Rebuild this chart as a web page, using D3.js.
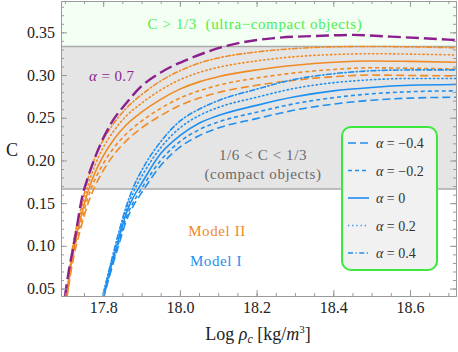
<!DOCTYPE html>
<html>
<head>
<meta charset="utf-8">
<script src="https://cdn.jsdelivr.net/npm/d3@7"></script>
<style>
  body { margin: 0; background: #fff; }
  text { font-family: "Liberation Serif", serif; }
</style>
</head>
<body>
<script>
// ---- data ----
var alphas = [-0.4, -0.2, 0, 0.2, 0.4];
var alphaLabels = ["\u03b1 = \u22120.4", "\u03b1 = \u22120.2", "\u03b1 = 0", "\u03b1 = 0.2", "\u03b1 = 0.4"];

// Model II (orange), log rho_c grid
var model2X = [17.705, 17.72, 17.74, 17.76, 17.78, 17.80, 17.83, 17.86, 17.90, 17.95, 18.00, 18.05, 18.10, 18.20, 18.30, 18.40, 18.50, 18.60, 18.72];
var model2C = {
  "-0.4": [0.038, 0.080, 0.118, 0.149, 0.171, 0.188, 0.208, 0.223, 0.238, 0.2525, 0.2645, 0.273, 0.2795, 0.288, 0.294, 0.298, 0.300, 0.2995, 0.299],
  "-0.2": [0.039, 0.085, 0.124, 0.156, 0.179, 0.196, 0.216, 0.231, 0.246, 0.261, 0.273, 0.2815, 0.288, 0.2965, 0.3025, 0.3065, 0.3085, 0.308, 0.307],
  "0":    [0.040, 0.089, 0.130, 0.163, 0.187, 0.205, 0.226, 0.2415, 0.2565, 0.2715, 0.2835, 0.292, 0.298, 0.306, 0.3115, 0.315, 0.3165, 0.316, 0.315],
  "0.2":  [0.041, 0.094, 0.135, 0.170, 0.196, 0.215, 0.236, 0.252, 0.267, 0.2825, 0.2945, 0.303, 0.309, 0.3165, 0.3215, 0.324, 0.325, 0.3245, 0.3235],
  "0.4":  [0.042, 0.098, 0.140, 0.178, 0.205, 0.224, 0.245, 0.261, 0.277, 0.293, 0.305, 0.314, 0.320, 0.327, 0.331, 0.333, 0.3335, 0.333, 0.332]
};

// Model I (blue)
var model1X = [17.80, 17.82, 17.84, 17.86, 17.88, 17.90, 17.95, 18.00, 18.05, 18.10, 18.20, 18.30, 18.40, 18.50, 18.60, 18.72];
var model1C = {
  "-0.4": [0.037, 0.070, 0.100, 0.129, 0.148, 0.162, 0.194, 0.2155, 0.229, 0.238, 0.249, 0.259, 0.266, 0.2705, 0.273, 0.274],
  "-0.2": [0.038, 0.072, 0.103, 0.133, 0.152, 0.167, 0.200, 0.222, 0.236, 0.245, 0.2565, 0.2665, 0.2735, 0.278, 0.2805, 0.2815],
  "0":    [0.040, 0.075, 0.107, 0.138, 0.158, 0.173, 0.208, 0.229, 0.2435, 0.2525, 0.2645, 0.2745, 0.2815, 0.2855, 0.288, 0.289],
  "0.2":  [0.042, 0.078, 0.111, 0.142, 0.164, 0.181, 0.215, 0.238, 0.2525, 0.262, 0.274, 0.2845, 0.291, 0.2945, 0.296, 0.296],
  "0.4":  [0.044, 0.080, 0.115, 0.146, 0.170, 0.188, 0.222, 0.246, 0.260, 0.270, 0.2835, 0.295, 0.3015, 0.305, 0.306, 0.306]
};

// alpha = 0.7 (purple)
var purpleX = [17.700, 17.71, 17.725, 17.745, 17.76, 17.78, 17.82, 17.86, 17.90, 17.95, 18.03, 18.12, 18.24, 18.37, 18.45, 18.55, 18.72];
var purpleC = [0.040, 0.070, 0.105, 0.157, 0.180, 0.205, 0.243, 0.267, 0.287, 0.303, 0.320, 0.334, 0.343, 0.346, 0.347, 0.345, 0.341];

var xTicks = [17.8, 18.0, 18.2, 18.4, 18.6];
var yTicks = [0.05, 0.10, 0.15, 0.20, 0.25, 0.30, 0.35];

// dash style for each alpha
var dashes = {"-0.4": "8,4", "-0.2": "4,3", "0": null, "0.2": "1.2,3", "0.4": "5,2.5,1.2,2.5"};

var orange = "#f08a24", blue = "#1f8ff0", purple = "#8b1f8e";

// ---- layout ----
var margin = {top: 1, right: 2, bottom: 56, left: 61},
    width = 458 - margin.left - margin.right,
    height = 352 - margin.top - margin.bottom;

var x = d3.scaleLinear().domain([17.69, 18.72]).range([0, width]);
var y = d3.scaleLinear().domain([0.0413, 0.3867]).range([height, 0]);

var svg = d3.select("body")
    .append("svg")
        .attr("width", 458)
        .attr("height", 352)
    .append("g")
        .attr("transform", "translate(" + margin.left + "," + margin.top + ")");

svg.append("defs").append("clipPath").attr("id", "clip")
    .append("rect").attr("width", width).attr("height", height);

// background bands
svg.append("rect")
    .attr("x", 0).attr("width", width)
    .attr("y", 0).attr("height", y(1/3))
    .attr("fill", "#f4fff4");
svg.append("rect")
    .attr("x", 0).attr("width", width)
    .attr("y", y(1/3)).attr("height", y(1/6) - y(1/3))
    .attr("fill", "#e5e5e5");
[1/3, 1/6].forEach(function(c) {
    svg.append("line")
        .attr("x1", 0).attr("x2", width)
        .attr("y1", y(c)).attr("y2", y(c))
        .attr("stroke", "#ababab").attr("stroke-width", 1.5);
});

// band texts
function label(tx, ty, color, str) {
    return svg.append("text")
        .attr("x", tx).attr("y", ty)
        .attr("text-anchor", "middle")
        .attr("fill", color).attr("font-size", 15)
        .attr("letter-spacing", 0.6)
        .attr("xml:space", "preserve")
        .text(str);
}
label(255 - margin.left, 28, "#4cf04c", "C > 1/3  (ultra\u2212compact objects)");
label(263 - margin.left, 159, "#6a6a6a", "1/6 < C < 1/3");
label(263 - margin.left, 178, "#6a6a6a", "(compact objects)");
label(217 - margin.left, 235, orange, "Model II");
label(216 - margin.left, 265, blue, "Model I");

// curves
var line = d3.line()
    .x(function(d) { return x(d[0]); })
    .y(function(d) { return y(d[1]); })
    .curve(d3.curveMonotoneX);

var curves = svg.append("g").attr("clip-path", "url(#clip)");

function drawFamily(xs, family, color) {
    alphas.forEach(function(a) {
        var key = String(a);
        var pts = xs.map(function(v, i) { return [v, family[key][i]]; });
        curves.append("path")
            .attr("d", line(pts))
            .attr("fill", "none")
            .attr("stroke", color)
            .attr("stroke-width", 1.6)
            .attr("stroke-dasharray", dashes[key])
            .attr("stroke-linecap", key === "0.2" || key === "0.4" ? "round" : "butt");
    });
}
drawFamily(model2X, model2C, orange);
drawFamily(model1X, model1C, blue);

curves.append("path")
    .attr("d", line(purpleX.map(function(v, i) { return [v, purpleC[i]]; })))
    .attr("fill", "none")
    .attr("stroke", purple)
    .attr("stroke-width", 2.4)
    .attr("stroke-dasharray", "13,5");

// alpha = 0.7 label
svg.append("text")
    .attr("x", 89 - margin.left).attr("y", 80)
    .attr("fill", purple).attr("font-size", 15)
    .attr("letter-spacing", 0.4)
    .html("<tspan font-style='italic'>\u03b1</tspan> = 0.7");

// legend
var lg = svg.append("g").attr("transform", "translate(" + (342 - margin.left) + "," + (127 - margin.top) + ")");
lg.append("rect")
    .attr("width", 95).attr("height", 143)
    .attr("rx", 9)
    .attr("fill", "#f1f1f1")
    .attr("stroke", "#3be83b").attr("stroke-width", 2);
alphas.forEach(function(a, i) {
    var key = String(a), yy = 16 + i * 27.5;
    lg.append("line")
        .attr("x1", 6).attr("x2", 27)
        .attr("y1", yy).attr("y2", yy)
        .attr("stroke", blue).attr("stroke-width", 1.6)
        .attr("stroke-dasharray", dashes[key]);
    lg.append("text")
        .attr("x", 34).attr("y", yy + 5)
        .attr("fill", "#333").attr("font-size", 14)
        .html("<tspan font-style='italic'>\u03b1</tspan>" + alphaLabels[i].slice(1));
});

// frame + ticks (inward, all four sides)
var xMinor = d3.range(17.70, 18.72, 0.05);
var yMinor = d3.range(0.05, 0.387, 0.01);

function styleAxis(g) {
    g.select(".domain").attr("stroke", "#9a9a9a");
    g.selectAll(".tick line").attr("stroke", "#9a9a9a");
    g.selectAll(".tick text").attr("fill", "#222").attr("font-size", 16)
        .attr("font-family", "Liberation Serif, serif");
}

svg.append("g").attr("transform", "translate(0," + height + ")")
    .call(d3.axisBottom(x).tickValues(xMinor).tickFormat("").tickSizeInner(-3).tickSizeOuter(0)).call(styleAxis);
svg.append("g").attr("transform", "translate(0," + height + ")")
    .call(d3.axisBottom(x).tickValues(xTicks).tickFormat(d3.format(".1f")).tickSizeInner(-6).tickSizeOuter(0).tickPadding(6)).call(styleAxis);
svg.append("g")
    .call(d3.axisTop(x).tickValues(xMinor).tickFormat("").tickSizeInner(-3).tickSizeOuter(0)).call(styleAxis);
svg.append("g")
    .call(d3.axisTop(x).tickValues(xTicks).tickFormat("").tickSizeInner(-6).tickSizeOuter(0)).call(styleAxis);

svg.append("g")
    .call(d3.axisLeft(y).tickValues(yMinor).tickFormat("").tickSizeInner(-3).tickSizeOuter(0)).call(styleAxis);
svg.append("g")
    .call(d3.axisLeft(y).tickValues(yTicks).tickFormat(d3.format(".2f")).tickSizeInner(-6).tickSizeOuter(0).tickPadding(6)).call(styleAxis);
svg.append("g").attr("transform", "translate(" + width + ",0)")
    .call(d3.axisRight(y).tickValues(yMinor).tickFormat("").tickSizeInner(-3).tickSizeOuter(0)).call(styleAxis);
svg.append("g").attr("transform", "translate(" + width + ",0)")
    .call(d3.axisRight(y).tickValues(yTicks).tickFormat("").tickSizeInner(-6).tickSizeOuter(0)).call(styleAxis);

// axis titles
svg.append("text")
    .attr("x", 12 - margin.left).attr("y", 155)
    .attr("text-anchor", "middle")
    .attr("fill", "#222").attr("font-size", 18)
    .text("C");
svg.append("text")
    .attr("x", 258 - margin.left).attr("y", 340 - margin.top)
    .attr("text-anchor", "middle")
    .attr("fill", "#222").attr("font-size", 18)
    .html("Log <tspan font-style='italic'>\u03c1</tspan><tspan font-style='italic' font-size='12' dy='3'>c</tspan><tspan dy='-3'> [kg/</tspan><tspan font-style='italic'>m</tspan><tspan font-size='11' dy='-7'>3</tspan><tspan dy='7'>]</tspan>");
</script>
</body>
</html>
